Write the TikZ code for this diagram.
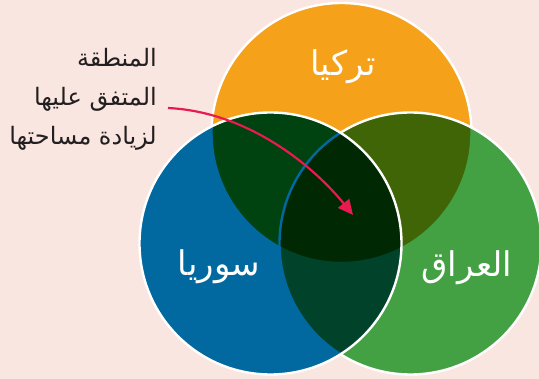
\documentclass[tikz,border=0pt]{standalone}
\usepackage{fontspec}
\usetikzlibrary{arrows.meta}
\TeXXeTstate=1
\newfontfamily\arabicfont[Script=Arabic]{DejaVu Sans}
\definecolor{bg}{RGB}{249,230,224}
\definecolor{corange}{RGB}{245,161,26}
\definecolor{cblue}{RGB}{1,105,160}
\definecolor{cgreen}{RGB}{67,161,68}
\definecolor{carrow}{RGB}{232,26,80}
\definecolor{ctext}{RGB}{35,31,32}
\tikzset{
  outline/.style={draw=white, line width=2.4pt},
  countrylabel/.style={text=white, font=\arabicfont\fontsize{34}{38}\selectfont, inner sep=0pt},
  notelabel/.style={text=ctext, font=\arabicfont\fontsize{24}{28}\selectfont, inner sep=0pt, anchor=east},
}
\begin{document}
\begin{tikzpicture}[x=1pt,y=-1pt]
\fill[bg] (0,0) rectangle (539,379);
\useasboundingbox (0,0) rectangle (539,379);
% white base under the union
\fill[white] (341.5,133) circle (130) (270.5,243.5) circle (131) (410.5,243.5) circle (131);
% Turkey
\begin{scope}[blend mode=multiply]
\fill[corange] (341.5,133) circle (130);
\end{scope}
\draw[outline] (341.5,133) circle (130);
% Iraq
\begin{scope}[blend mode=multiply]
\fill[cgreen] (410.5,243.5) circle (131);
\end{scope}
\draw[outline] (410.5,243.5) circle (131);
% Syria
\begin{scope}[blend mode=multiply]
\fill[cblue] (270.5,243.5) circle (131);
\end{scope}
\draw[outline] (270.5,243.5) circle (131);
% labels
\node[countrylabel] (tr) at (343,67) {\beginR تركيا\endR};
\node[countrylabel] (sy) at (219,267) {\beginR سوريا\endR};
\node[countrylabel] (iq) at (467,268) {\beginR العراق\endR};
\node[notelabel] (n1) at (157,58) {\beginR المنطقة\endR};
\node[notelabel] (n2) at (157,99) {\beginR المتفق عليها\endR};
\node[notelabel] (n3) at (157,138) {\beginR لزيادة مساحتها\endR};
\coordinate (as) at (168,108);
\coordinate (ae) at (353,215);
\draw[carrow, line width=2.2pt, -{Triangle[length=15pt,width=14pt]}] (as) .. controls (250,112) and (315,168) .. (ae);
\end{tikzpicture}
\end{document}
